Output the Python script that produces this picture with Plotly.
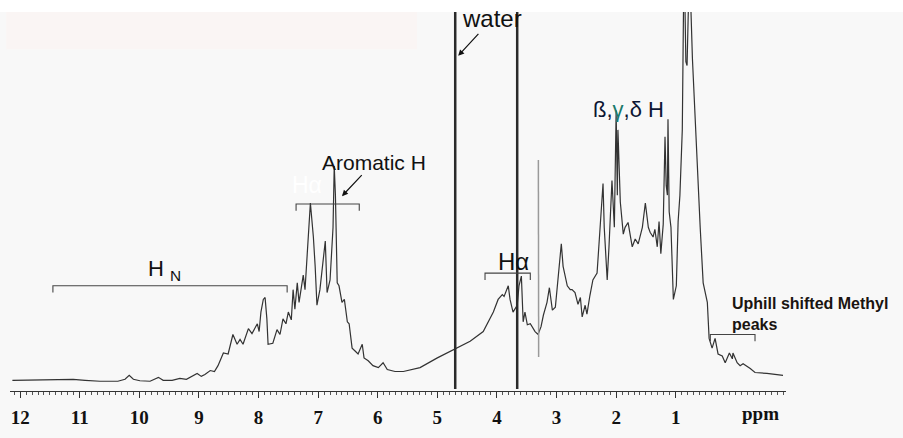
import plotly.graph_objects as go

# 1H NMR spectrum of a protein sample (chemical shift in ppm, intensity in arbitrary units)
ppm = [
    12.13, 11.66, 11.11, 10.91, 10.66, 10.36, 10.24, 10.17, 10.10, 9.99,
    9.82, 9.68, 9.60, 9.45, 9.32, 9.21, 9.11, 9.03, 8.96, 8.90,
    8.81, 8.74, 8.68, 8.59, 8.51, 8.43, 8.36, 8.31, 8.26, 8.17,
    8.11, 8.02, 7.99, 7.96, 7.92, 7.89, 7.86, 7.84, 7.76, 7.69,
    7.64, 7.59, 7.54, 7.50, 7.45, 7.42, 7.39, 7.35, 7.32, 7.25,
    7.22, 7.17, 7.13, 7.12, 7.08, 7.05, 7.02, 6.97, 6.93, 6.92,
    6.88, 6.85, 6.80, 6.75, 6.73, 6.71, 6.68, 6.65, 6.60, 6.56,
    6.51, 6.48, 6.43, 6.38, 6.33, 6.26, 6.23, 6.16, 6.08, 5.99,
    5.91, 5.84, 5.71, 5.57, 5.29, 5.00, 4.68, 4.45, 4.23, 4.06,
    3.98, 3.91, 3.88, 3.81, 3.78, 3.73, 3.66, 3.63, 3.59, 3.56,
    3.53, 3.49, 3.44, 3.36, 3.31, 3.26, 3.22, 3.16, 3.12, 3.07,
    3.02, 2.97, 2.94, 2.92, 2.89, 2.82, 2.77, 2.74, 2.69, 2.64,
    2.60, 2.57, 2.52, 2.49, 2.44, 2.39, 2.32, 2.30, 2.27, 2.22,
    2.20, 2.15, 2.12, 2.07, 2.03, 2.02, 2.00, 1.98, 1.97, 1.93,
    1.88, 1.85, 1.80, 1.73, 1.68, 1.63, 1.56, 1.51, 1.46, 1.43,
    1.38, 1.35, 1.31, 1.28, 1.25, 1.21, 1.18, 1.16, 1.14, 1.13,
    1.11, 1.08, 1.04, 0.99, 0.96, 0.93, 0.89, 0.86, 0.83, 0.81,
    0.77, 0.72, 0.67, 0.59, 0.54, 0.51, 0.47, 0.44, 0.39, 0.34,
    0.29, 0.22, 0.17, 0.10, 0.05, 0.04, -0.03, -0.08, -0.13, -0.25,
    -0.33, -0.53, -0.80,
]
intensity = [
    0, 0.5, 1, 0, -1, -1, 1, 5, 1, -0.5,
    -1, 3, 0, 0, 2, 1, 4, 7, 4, 6,
    10, 9, 15, 28, 27, 47, 37, 42, 37, 53,
    48, 58, 50, 70, 83, 85, 63, 37, 38, 52,
    47, 63, 58, 70, 62, 93, 73, 100, 80, 108,
    93, 140, 182, 175, 147, 117, 77, 93, 113, 123,
    143, 90, 103, 157, 220, 190, 100, 97, 80, 83,
    60, 58, 33, 30, 27, 37, 23, 20, 15, 13,
    18, 11, 9, 9, 13, 23, 33, 40, 50, 70,
    83, 88, 86, 97, 83, 70, 77, 97, 107, 60,
    70, 57, 58, 50, 47, 55, 67, 80, 95, 72,
    75, 107, 130, 140, 117, 97, 93, 93, 90, 78,
    85, 65, 77, 68, 87, 103, 110, 130, 157, 202,
    157, 103, 137, 205, 157, 210, 277, 190, 257, 183,
    150, 157, 162, 137, 145, 140, 157, 182, 157, 152,
    147, 155, 137, 163, 130, 160, 250, 200, 190, 268,
    173, 157, 83, 97, 163, 190, 257, 440, 327, 323,
    430, 330, 257, 157, 100, 90, 80, 43, 33, 43,
    27, 25, 18, 28, 22, 28, 18, 15, 17, 12,
    8, 7, 5,
]

# Dispersive artefact near 3.3 ppm (maximum and minimum of the signal)
artifact_ppm = [3.305, 3.30]
artifact_intensity = [226, 24]

# Residual water signals, far off scale
water_ppm = [4.70, 3.66]
water_floor = -9
water_ceiling = 2000

# Axis ticks
tick_values = [12, 11, 10, 9, 8, 7, 6, 5, 4, 3, 2, 1]
tick_labels = ["12", "11", "10", "9", "8", "7", "6", "5", "4", "3", "2", "1"]

# Assignment brackets: (left ppm, right ppm, level)
brackets = [
    (11.45, 7.52, 97),   # H_N
    (7.37, 6.31, 181),   # aromatic
    (4.20, 3.44, 110),   # H-alpha
    (0.42, -0.33, 47),   # upfield methyls
]

fig = go.Figure()

fig.add_trace(go.Scatter(
    x=ppm, y=intensity, mode="lines",
    line=dict(color="#333333", width=1.2),
    hoverinfo="skip", showlegend=False,
))

fig.add_trace(go.Scatter(
    x=artifact_ppm, y=artifact_intensity, mode="lines",
    line=dict(color="#9a9a9a", width=1.5),
    hoverinfo="skip", showlegend=False,
))

for wp in water_ppm:
    fig.add_trace(go.Scatter(
        x=[wp, wp], y=[water_floor, water_ceiling], mode="lines",
        line=dict(color="#2a2a2a", width=2.5),
        hoverinfo="skip", showlegend=False,
    ))

shapes = [
    # white strip above the plotting area
    dict(type="rect", xref="paper", yref="paper", x0=-0.02, x1=1.2, y0=1.0, y1=1.04,
         fillcolor="white", line=dict(width=0), layer="below"),
    # faint tinted band at top left
    dict(type="rect", xref="paper", yref="paper", x0=-0.005, x1=0.5245, y0=0.902, y1=1.0,
         fillcolor="#faf5f4", line=dict(width=0), layer="below"),
]
for left, right, level in brackets:
    shapes.append(dict(
        type="path", xref="x", yref="y",
        path=f"M {left},{level - 7} L {left},{level} L {right},{level} L {right},{level - 7}",
        line=dict(color="#444444", width=1.1),
    ))

sans = "Arial, Liberation Sans, sans-serif"
serif = "Liberation Serif, Times New Roman, serif"
annotations = [
    # labels with arrows: x/y is the arrow tip, ax/ay offsets the text
    dict(x=4.65, y=333, ax=34, ay=-37, text="water", showarrow=True,
         arrowhead=2, arrowsize=1, arrowwidth=1.2, arrowcolor="#111111",
         font=dict(family=sans, size=24, color="#111111")),
    dict(x=6.60, y=189, ax=32, ay=-34, text="Aromatic H", showarrow=True,
         arrowhead=2, arrowsize=1, arrowwidth=1.2, arrowcolor="#111111",
         font=dict(family=sans, size=21, color="#111111")),
    dict(x=7.18, y=200, text="Hα", showarrow=False,
         font=dict(family=sans, size=23, color="#ffffff")),
    dict(x=9.57, y=113, text="H <sub>N</sub>", showarrow=False,
         font=dict(family=sans, size=22, color="#111111")),
    dict(x=3.73, y=122, text="Hα", showarrow=False,
         font=dict(family=sans, size=24, color="#111111")),
    dict(x=1.80, y=278,
         text='ß,<span style="color:#1b7a6b">γ</span>,δ H', showarrow=False,
         font=dict(family=sans, size=22, color="#0d1633")),
    dict(x=0.09, y=68, xanchor="left", align="left",
         text="<b>Uphill shifted Methyl<br>peaks</b>", showarrow=False,
         font=dict(family=sans, size=16, color="#1a1410")),
    dict(x=-0.42, y=-0.06, yref="paper", text="<b>ppm</b>", showarrow=False,
         yanchor="middle",
         font=dict(family=serif, size=19, color="#111111")),
]
for a in annotations:
    a.setdefault("xref", "x")
    a.setdefault("yref", "y")
    if a.get("showarrow"):
        a["axref"] = "pixel"
        a["ayref"] = "pixel"

fig.update_layout(
    width=903, height=438,
    margin=dict(l=10, r=117, t=12, b=37),
    paper_bgcolor="#f8f8f8", plot_bgcolor="#f8f8f8",
    shapes=shapes, annotations=annotations,
    xaxis=dict(
        range=[12.17, -0.85], showgrid=False, zeroline=False,
        showline=True, linecolor="#333333", linewidth=1,
        tickmode="array", tickvals=tick_values, ticktext=tick_labels,
        ticks="outside", ticklen=6, tickcolor="#333333",
        ticklabelstandoff=3,
        tickfont=dict(family=serif, size=19, color="#111111", weight="bold"),
        minor=dict(dtick=0.1, tick0=0, ticks="outside", ticklen=3, tickcolor="#555555"),
        fixedrange=True,
    ),
    yaxis=dict(range=[-11, 378], visible=False, fixedrange=True),
    showlegend=False,
)

fig.write_html("out.html")
